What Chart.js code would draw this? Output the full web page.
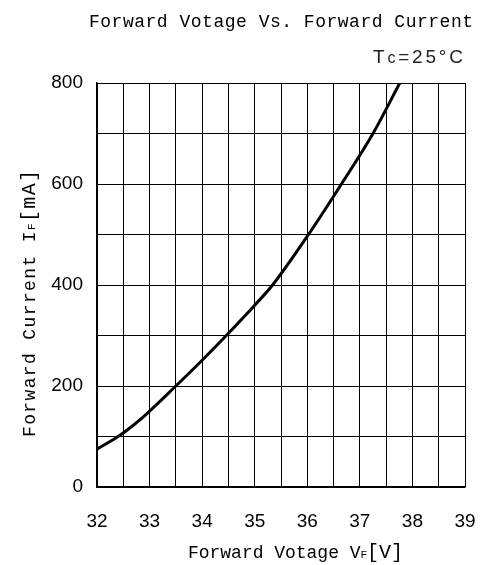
<!DOCTYPE html>
<html>
<head>
<meta charset="utf-8">
<script src="https://cdn.jsdelivr.net/npm/chart.js@4.4.1/dist/chart.umd.min.js"></script>
<style>
  html, body { margin:0; padding:0; background:#fff; }
  #wrap { width:483px; height:565px; }
</style>
</head>
<body>
<div id="wrap"><canvas id="c" width="483" height="565"></canvas></div>
<script>
const voltage = [32.0, 32.4, 32.55, 32.86, 33.5, 34.0, 34.46, 35.0, 35.34, 36.03, 36.65, 37.25, 37.76];
const current = [75, 100, 111, 137, 200, 251, 300, 360, 400, 501, 600, 700, 800];
const xTickLabels = [32, 33, 34, 35, 36, 37, 38, 39];
const yTickLabels = [0, 200, 400, 600, 800];

const MONO = '"Liberation Mono", monospace';
const SANS = '"Liberation Sans", Arial, sans-serif';

// dibuja texto repartido a un ancho fijo (la fuente original es monoespaciada)
function fitText(ctx, parts, x0, y, width){
  let natural = 0, n = 0;
  parts.forEach(p => {
    ctx.font = p.font;
    for(const ch of p.t){ natural += ctx.measureText(ch).width; n++; }
  });
  const gap = n > 1 ? (width - natural) / (n - 1) : 0;
  let x = x0;
  ctx.textBaseline = 'alphabetic';
  ctx.textAlign = 'left';
  parts.forEach(p => {
    ctx.font = p.font;
    for(const ch of p.t){
      ctx.fillText(ch, x, y + (p.dy || 0));
      x += ctx.measureText(ch).width + gap;
    }
  });
}

const labelsPlugin = {
  id: 'labels',
  afterDraw(chart){
    const ctx = chart.ctx;
    ctx.save();
    ctx.fillStyle = '#000';
    fitText(ctx, [{t:'Forward Votage Vs. Forward Current', font:`18px ${MONO}`}], 89, 27, 384);
    ctx.fillStyle = '#222';
    fitText(ctx, [{t:'T', font:`19px ${SANS}`}, {t:'c', font:`16px ${SANS}`}, {t:'=25°C', font:`19px ${SANS}`}], 373, 63, 90);
    ctx.fillStyle = '#000';
    fitText(ctx, [
      {t:'Forward Votage V', font:`18px ${MONO}`},
      {t:'F', font:`11px ${MONO}`},
      {t:'[V]', font:`20px ${MONO}`}
    ], 188, 558, 215);
    ctx.translate(29, 303.5);
    ctx.rotate(-Math.PI / 2);
    fitText(ctx, [
      {t:'Forward Current I', font:`18px ${MONO}`},
      {t:'F', font:`11px ${MONO}`},
      {t:'[mA]', font:`20px ${MONO}`}
    ], -133.5, 6, 267);
    ctx.restore();
  }
};

new Chart(document.getElementById('c'), {
  type: 'line',
  data: {
    datasets: [{
      data: voltage.map((v, i) => ({x: v, y: current[i]})),
      borderColor: '#000',
      borderWidth: 3,
      pointRadius: 0,
      cubicInterpolationMode: 'monotone',
      fill: false
    }]
  },
  options: {
    responsive: false,
    animation: false,
    devicePixelRatio: 1,
    layout: { padding: { top: 83, right: 18, left: 0, bottom: 0 } },
    plugins: { legend: { display: false }, tooltip: { enabled: false } },
    scales: {
      x: {
        type: 'linear', min: 32, max: 39,
        afterFit(s){ s.height = 78; s.paddingLeft = 0; s.paddingRight = 0; },
        ticks: {
          stepSize: 0.5, autoSkip: false, maxRotation: 0, padding: 23,
          color: '#000', font: { family: SANS, size: 19 },
          callback: v => xTickLabels.includes(v) ? String(v) : ''
        },
        grid: { color: '#000', lineWidth: 1, drawTicks: false },
        border: { color: '#000', width: 1.5 }
      },
      y: {
        min: 0, max: 800,
        afterFit(s){ s.width = 97; s.paddingTop = 0; s.paddingBottom = 0; },
        ticks: {
          stepSize: 100, autoSkip: false, padding: 14,
          color: '#000', font: { family: SANS, size: 19 },
          callback: v => yTickLabels.includes(v) ? String(v) : ''
        },
        grid: { color: '#000', lineWidth: 1, drawTicks: false },
        border: { color: '#000', width: 1.5 }
      }
    }
  },
  plugins: [labelsPlugin]
});
</script>
</body>
</html>
